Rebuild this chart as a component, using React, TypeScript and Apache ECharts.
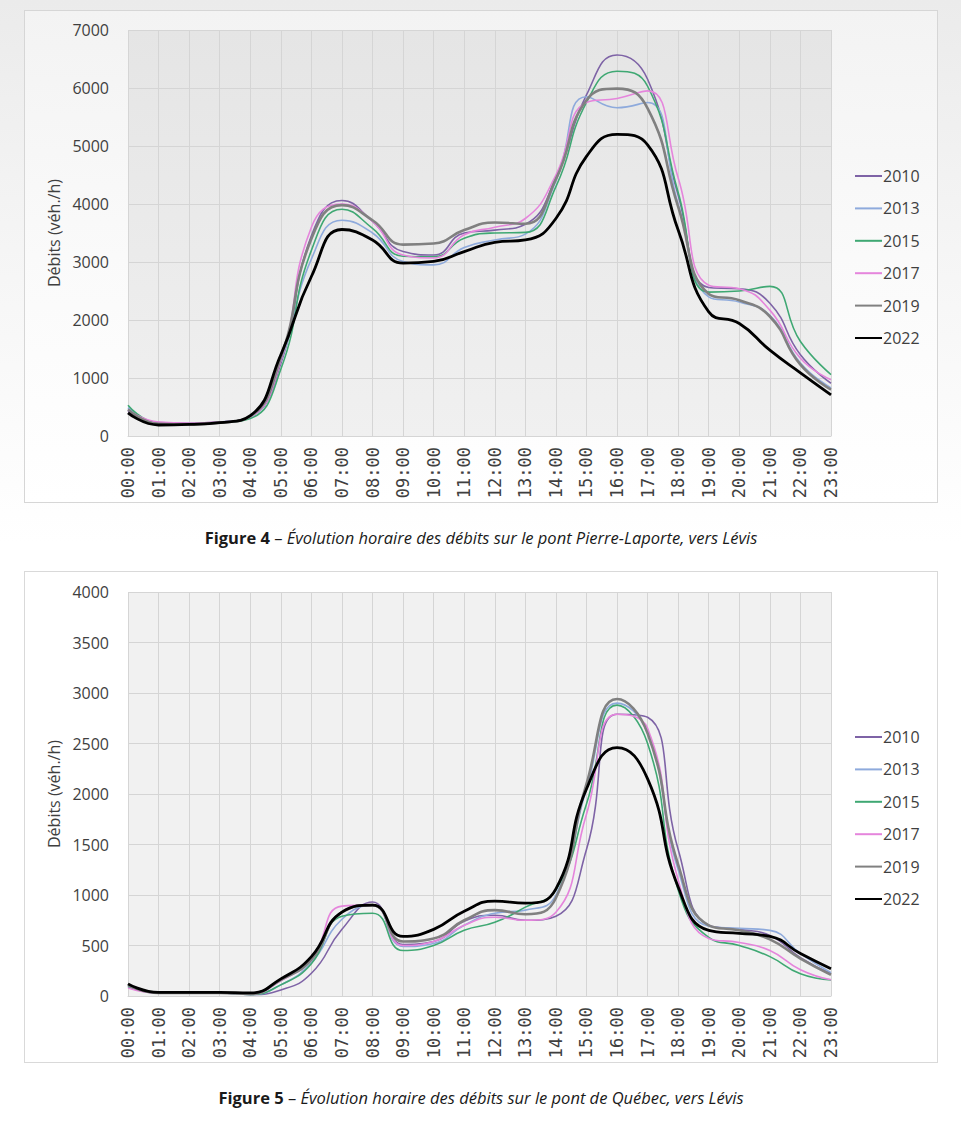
import React, { useEffect, useRef } from 'react';
import * as echarts from 'echarts';

const hours = ['00:00','01:00','02:00','03:00','04:00','05:00','06:00','07:00','08:00','09:00','10:00','11:00','12:00','13:00','14:00','15:00','16:00','17:00','18:00','19:00','20:00','21:00','22:00','23:00'];
const years = ['2010', '2013', '2015', '2017', '2019', '2022'];

// Figure 4 – pont Pierre-Laporte
const pl2010 = [430, 230, 220, 240, 330, 1250, 3450, 4060, 3700, 3180, 3120, 3500, 3550, 3650, 4450, 5880, 6570, 6150, 4150, 2560, 2540, 2290, 1400, 910];
const pl2013 = [490, 220, 210, 240, 330, 1300, 3050, 3720, 3500, 3010, 2950, 3250, 3380, 3480, 4400, 5850, 5660, 5750, 4000, 2400, 2310, 2080, 1260, 830];
const pl2015 = [530, 220, 210, 230, 300, 1150, 3200, 3910, 3580, 3100, 3090, 3410, 3500, 3510, 4300, 5750, 6290, 6030, 4200, 2480, 2500, 2580, 1630, 1060];
const pl2017 = [450, 240, 220, 240, 330, 1300, 3600, 4000, 3700, 3120, 3070, 3470, 3600, 3750, 4500, 5750, 5820, 5950, 4450, 2600, 2540, 2170, 1340, 970];
const pl2019 = [460, 210, 200, 230, 340, 1350, 3400, 3980, 3720, 3300, 3320, 3550, 3680, 3660, 4430, 5790, 5990, 5650, 3950, 2450, 2340, 2060, 1230, 800];
const pl2022 = [400, 190, 200, 230, 350, 1400, 2750, 3560, 3380, 2980, 3010, 3180, 3340, 3380, 3750, 4820, 5200, 5020, 3550, 2140, 1940, 1480, 1090, 710];

// Figure 5 – pont de Québec
const qc2010 = [100, 30, 30, 30, 15, 60, 225, 660, 930, 510, 540, 740, 800, 750, 790, 1450, 2790, 2760, 1450, 700, 660, 600, 380, 220];
const qc2013 = [100, 30, 30, 30, 15, 110, 330, 760, 900, 490, 520, 700, 820, 850, 1000, 2050, 2900, 2600, 1250, 690, 670, 650, 420, 230];
const qc2015 = [90, 30, 30, 30, 15, 110, 320, 790, 820, 450, 500, 650, 730, 880, 1050, 1900, 2880, 2500, 1050, 580, 500, 390, 220, 160];
const qc2017 = [80, 30, 30, 30, 20, 150, 370, 890, 900, 500, 540, 700, 780, 750, 830, 1800, 2790, 2650, 1150, 570, 530, 450, 260, 160];
const qc2019 = [110, 30, 30, 30, 20, 160, 360, 830, 900, 540, 570, 750, 850, 810, 970, 2100, 2940, 2600, 1300, 700, 650, 560, 370, 210];
const qc2022 = [120, 35, 35, 35, 30, 170, 390, 830, 900, 590, 660, 840, 940, 920, 1060, 2050, 2460, 2150, 1080, 650, 620, 590, 420, 270];

const plData = [pl2010, pl2013, pl2015, pl2017, pl2019, pl2022];
const qcData = [qc2010, qc2013, qc2015, qc2017, qc2019, qc2022];

const colors = ['#7e63a6', '#8eaadc', '#3fa873', '#e585dc', '#808080', '#000000'];
const widths = [1.6, 1.6, 1.6, 1.6, 2.6, 2.8];

const textColor = '#3f3f3f';
const gridColor = '#d5d5d5';

function makeSeries(data: number[][], idx: number) {
  return data.map((d, i) => ({
    name: years[i],
    type: 'line',
    xAxisIndex: idx,
    yAxisIndex: idx,
    data: d,
    smooth: 0.5,
    symbol: 'none',
    lineStyle: { color: colors[i], width: widths[i] },
    itemStyle: { color: colors[i] },
  }));
}

function xAxis(gridIndex: number) {
  return {
    type: 'category',
    gridIndex,
    data: hours,
    boundaryGap: false,
    axisLine: { show: true, lineStyle: { color: gridColor } },
    axisTick: { show: false },
    axisLabel: {
      interval: 0,
      rotate: 90,
      margin: 11,
      color: textColor,
      fontSize: 17,
      fontFamily: 'DejaVu Sans Mono',
    },
    splitLine: { show: true, lineStyle: { color: gridColor, width: 1 } },
  };
}

function yAxis(gridIndex: number, max: number, interval: number) {
  return {
    type: 'value',
    gridIndex,
    min: 0,
    max,
    interval,
    name: 'Débits (véh./h)',
    nameLocation: 'middle',
    nameGap: 59,
    nameTextStyle: { color: textColor, fontSize: 16, fontFamily: 'Open Sans' },
    axisLine: { show: false },
    axisTick: { show: false },
    axisLabel: {
      color: textColor, fontSize: 16, fontFamily: 'Open Sans', margin: 19,
      formatter: (v: number) => String(v),
    },
    splitLine: { show: true, lineStyle: { color: gridColor, width: 1 } },
  };
}

function legend(top: number) {
  return {
    orient: 'vertical',
    left: 854,
    top,
    itemWidth: 27,
    itemHeight: 14,
    itemGap: 16.4,
    padding: 0,
    data: years,
    itemStyle: { opacity: 0 },
    textStyle: { color: textColor, fontSize: 16, fontFamily: 'Open Sans', padding: [0, 0, 0, -4] },
  };
}

function caption(y: number, fig: string, rest: string) {
  return {
    type: 'text',
    x: 481,
    y,
    style: {
      text: `{b|${fig}}{n| – }{i|${rest}}`,
      align: 'center',
      verticalAlign: 'middle',
      rich: {
        b: { fontFamily: 'Open Sans', fontWeight: 'bold', fontSize: 16.5, fill: '#1a1a1a' },
        n: { fontFamily: 'Open Sans', fontSize: 16.5, fill: '#1a1a1a' },
        i: { fontFamily: 'Open Sans', fontStyle: 'italic', fontSize: 16.5, fill: '#1a1a1a' },
      },
    },
  };
}

const option = {
  animation: false,
  backgroundColor: 'transparent',
  grid: [
    {
      left: 128, top: 30, width: 703, height: 406, show: true, borderWidth: 0,
      backgroundColor: {
        type: 'linear', x: 0, y: 0, x2: 0, y2: 1,
        colorStops: [{ offset: 0, color: '#e5e5e5' }, { offset: 1, color: '#f0f0f0' }],
      },
    },
    { left: 128, top: 592, width: 703, height: 404, show: true, borderWidth: 0, backgroundColor: '#f1f1f1' },
  ],
  xAxis: [xAxis(0), xAxis(1)],
  yAxis: [yAxis(0, 7000, 1000), yAxis(1, 4000, 500)],
  legend: [legend(168), legend(729)],
  series: [...makeSeries(plData, 0), ...makeSeries(qcData, 1)],
  graphic: [
    caption(537, 'Figure 4', 'Évolution horaire des débits sur le pont Pierre-Laporte, vers Lévis'),
    caption(1097, 'Figure 5', 'Évolution horaire des débits sur le pont de Québec, vers Lévis'),
  ],
};

export default function App() {
  const ref = useRef<HTMLDivElement>(null);
  useEffect(() => {
    const chart = echarts.init(ref.current as HTMLDivElement, null, { renderer: 'svg' });
    chart.setOption(option as any);
    return () => chart.dispose();
  }, []);
  return (
    <div
      style={{
        position: 'fixed', left: 0, top: 0, width: 961, height: 1131,
        background: 'linear-gradient(180deg, #ebebeb 0%, #f5f5f5 22%, #ffffff 48%, #ffffff 100%)',
      }}
    >
      <div
        style={{
          position: 'absolute', left: 24, top: 10, width: 914, height: 493, boxSizing: 'border-box',
          border: '1px solid #d6d6d6',
          background: 'linear-gradient(180deg, #f3f3f3 0%, #fafafa 50%, #ffffff 100%)',
        }}
      />
      <div
        style={{
          position: 'absolute', left: 24, top: 571, width: 914, height: 492, boxSizing: 'border-box',
          border: '1px solid #d9d9d9', background: '#ffffff',
        }}
      />
      <div ref={ref} style={{ position: 'absolute', left: 0, top: 0, width: 961, height: 1131 }} />
    </div>
  );
}
